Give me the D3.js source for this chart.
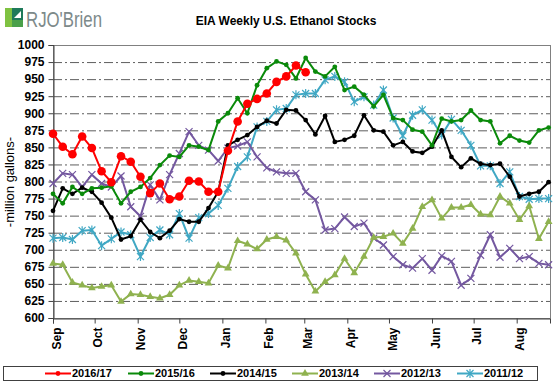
<!DOCTYPE html>
<html>
<head>
<meta charset="utf-8">
<script src="https://cdn.jsdelivr.net/npm/d3@7"></script>
<style>
  body { margin: 0; background: #fff; }
  svg { font-family: Arial, "Liberation Sans", sans-serif; }
</style>
</head>
<body>
<svg id="chart" width="555" height="385"></svg>
<script>
// Data - weekly stocks, million gallons, first week of September onwards

const seasons = ['2016/17', '2015/16', '2014/15', '2013/14', '2012/13', '2011/12'];

const s2016 = [870, 851, 840, 866, 849, 815, 799, 837, 829, 807, 783, 797, 774, 778, 801, 800, 785, 785,
  845, 888, 914, 921, 929, 946, 954, 970, 960];

const s2015 = [782, 768, 792, 782, 790, 791, 793, 768, 785, 792, 805, 824, 838, 836, 853, 851, 846, 888,
  900, 922, 900, 941, 966, 976, 971, 951, 981, 961, 954, 968, 934, 939, 927, 910, 927,
  893, 890, 876, 873, 853, 892, 888, 890, 904, 890, 888, 856, 867, 860, 857, 875, 879];

const s2014 = [757, 790, 782, 791, 785, 769, 747, 715, 720, 744, 726, 717, 728, 745, 741, 741, 761, 785,
  853, 861, 868, 880, 889, 885, 905, 904, 890, 869, 896, 858, 861, 867, 897, 875, 873,
  853, 858, 844, 842, 851, 875, 836, 821, 834, 826, 824, 826, 807, 778, 782, 785, 799];

const s2013 = [680, 678, 652, 648, 644, 646, 648, 624, 635, 634, 631, 629, 634, 648, 655, 653, 651,
  677, 673, 713, 708, 701, 715, 719, 714, 695, 664, 639, 653, 663, 687, 666, 690, 718, 719,
  724, 709, 731, 763, 773, 746, 762, 762, 766, 752, 751, 778, 768, 744, 764, 716, 741];

const s2012 = [797, 812, 810, 792, 810, 797, 792, 808, 763, 749, 795, 773, 810, 841, 873, 853, 846,
  830, 849, 852, 858, 836, 820, 814, 812, 812, 785, 773, 729, 731, 748, 734, 739, 717, 707,
  690, 678, 673, 687, 670, 691, 683, 648, 658, 692, 722, 689, 702, 687, 690, 680, 678];

const s2011 = [717, 718, 715, 728, 729, 706, 716, 726, 722, 690, 718, 729, 722, 753, 717, 747, 753, 765,
  790, 822, 836, 880, 888, 905, 907, 927, 929, 929, 949, 954, 946, 917, 924, 912, 934,
  893, 867, 897, 905, 890, 868, 891, 875, 853, 823, 823, 797, 814, 778, 774, 775, 775];

const yTicks = d3.range(600, 1001, 25);
const monthLabels = ['Sep', 'Oct', 'Nov', 'Dec', 'Jan', 'Feb', 'Mar', 'Apr', 'May', 'Jun', 'Jul', 'Aug'];

const colors = ['#ff0000', '#0a8a0a', '#000000', '#8fb24f', '#7458a0', '#40a8c4'];
const markers = ['bigdot', 'dot', 'dot', 'tri', 'x', 'star'];
const allSeries = [s2016, s2015, s2014, s2013, s2012, s2011];

// Layout

const svg = d3.select('#chart');
const plotL = 53, plotR = 550, plotT = 45, plotB = 318;

const start = new Date(Date.UTC(2016, 8, 1));
const end = new Date(Date.UTC(2017, 7, 25));
const weekDate = (i) => d3.utcDay.offset(start, i * 7);

const x = d3.scaleUtc().domain([start, end]).range([plotL, plotR]);
const y = d3.scaleLinear().domain([600, 1000]).range([plotB, plotT]);

// Title and logo

const logo = svg.append('g').attr('transform', 'translate(5,8)');
logo.append('rect').attr('x', 0).attr('y', 0).attr('width', 7).attr('height', 19).attr('fill', '#7fc241');
logo.append('rect').attr('x', 7).attr('y', 0).attr('width', 11).attr('height', 12).attr('fill', '#1e7a5a');
logo.append('path').attr('d', 'M7,12 L18,12 L18,19 L7,19 Z').attr('fill', '#4aa04a');
logo.append('path').attr('d', 'M9,10 L16,3 L16,10 Z').attr('fill', '#fff');
svg.append('text')
    .attr('x', 26).attr('y', 27)
    .attr('font-size', 22)
    .attr('fill', '#7d8a8a')
    .attr('textLength', 76)
    .attr('lengthAdjust', 'spacingAndGlyphs')
    .text("RJO'Brien");

svg.append('text')
    .attr('x', 286).attr('y', 25)
    .attr('text-anchor', 'middle')
    .attr('font-size', 12)
    .attr('font-weight', 'bold')
    .text('EIA Weekly U.S. Ethanol Stocks');

// Grid

svg.append('g')
    .selectAll('line')
    .data(yTicks.filter(d => d > 600 && d < 1000))
    .join('line')
      .attr('x1', plotL).attr('x2', plotR)
      .attr('y1', d => y(d) + 0.5).attr('y2', d => y(d) + 0.5)
      .attr('stroke', '#5e5e5e')
      .attr('stroke-width', 1)
      .style('stroke-dasharray', '9,3,2,3');

svg.append('rect')
    .attr('x', plotL + 0.5).attr('y', plotT + 0.5)
    .attr('width', plotR - plotL).attr('height', plotB - plotT)
    .attr('fill', 'none')
    .attr('stroke', '#808080');

// Axes

const yAxis = svg.append('g')
    .attr('transform', 'translate(' + (plotL + 0.5) + ',0)')
    .call(d3.axisLeft(y).tickValues(yTicks).tickFormat(d3.format('d')).tickSize(5).tickPadding(4));
yAxis.select('.domain').attr('stroke', '#404040');
yAxis.selectAll('.tick line').attr('stroke', '#404040');
yAxis.selectAll('text').attr('font-size', 12).attr('font-weight', 'bold').attr('fill', '#000')
    .style('font-family', 'Arial, "Liberation Sans", sans-serif');

const months = d3.utcMonths(start, end);
const xAxis = svg.append('g')
    .attr('transform', 'translate(0,' + (plotB + 0.5) + ')')
    .call(d3.axisBottom(x).tickValues(months).tickFormat((d, i) => monthLabels[i]).tickSize(5));
xAxis.select('.domain').attr('stroke', '#404040');
xAxis.selectAll('.tick line').attr('stroke', '#404040');
xAxis.selectAll('text')
    .attr('font-size', 12).attr('font-weight', 'bold').attr('fill', '#000')
    .style('font-family', 'Arial, "Liberation Sans", sans-serif')
    .attr('text-anchor', 'end')
    .attr('transform', 'rotate(-90)')
    .attr('x', -9).attr('y', 3).attr('dy', '0.35em');

svg.append('text')
    .attr('transform', 'translate(14,182) rotate(-90)')
    .attr('text-anchor', 'middle')
    .attr('font-size', 13)
    .text('-million  gallons-');

// Markers

function drawMarker(g, type, color) {
  if (type === 'bigdot') {
    g.append('circle').attr('r', 4.3).attr('fill', color);
  } else if (type === 'dot') {
    g.append('circle').attr('r', 2.4).attr('fill', color);
  } else if (type === 'tri') {
    g.append('path').attr('d', d3.symbol(d3.symbolTriangle, 26)()).attr('fill', color);
  } else if (type === 'x') {
    g.append('path').attr('d', 'M-3.5,-3.5L3.5,3.5M-3.5,3.5L3.5,-3.5')
        .attr('stroke', color).attr('stroke-width', 1.2).attr('fill', 'none');
  } else if (type === 'star') {
    g.append('path').attr('d', 'M-3.5,-3.5L3.5,3.5M-3.5,3.5L3.5,-3.5M0,-4.5L0,4.5')
        .attr('stroke', color).attr('stroke-width', 1.2).attr('fill', 'none');
  }
}

const line = d3.line()
    .x((d, i) => x(weekDate(i)))
    .y(d => y(d));

// draw oldest first so 2016/17 ends on top
for (let k = allSeries.length - 1; k >= 0; k--) {
  const data = allSeries[k];
  const g = svg.append('g');
  g.append('path')
      .datum(data)
      .attr('d', line)
      .attr('fill', 'none')
      .attr('stroke', colors[k])
      .attr('stroke-width', 2);
  g.selectAll('g.pt')
      .data(data)
      .join('g')
        .attr('class', 'pt')
        .attr('transform', (d, i) => 'translate(' + x(weekDate(i)) + ',' + y(d) + ')')
        .each(function () { drawMarker(d3.select(this), markers[k], colors[k]); });
}

// Legend

const legend = svg.append('g');
legend.append('rect')
    .attr('x', 3.5).attr('y', 366.5)
    .attr('width', 534).attr('height', 14)
    .attr('fill', '#fff')
    .attr('stroke', '#404040');

const legendX = [45, 128, 210, 292, 374, 457];
seasons.forEach((s, k) => {
  const item = legend.append('g').attr('transform', 'translate(' + legendX[k] + ',373.5)');
  item.append('line').attr('x1', 0).attr('x2', 26).attr('stroke', colors[k]).attr('stroke-width', 2);
  drawMarker(item.append('g').attr('transform', 'translate(13,0)'), markers[k] === 'bigdot' ? 'dot' : markers[k], colors[k]);
  item.append('text')
      .attr('x', 27).attr('dy', '0.35em')
      .attr('font-size', 11).attr('font-weight', 'bold')
      .text(s);
});
</script>
</body>
</html>
